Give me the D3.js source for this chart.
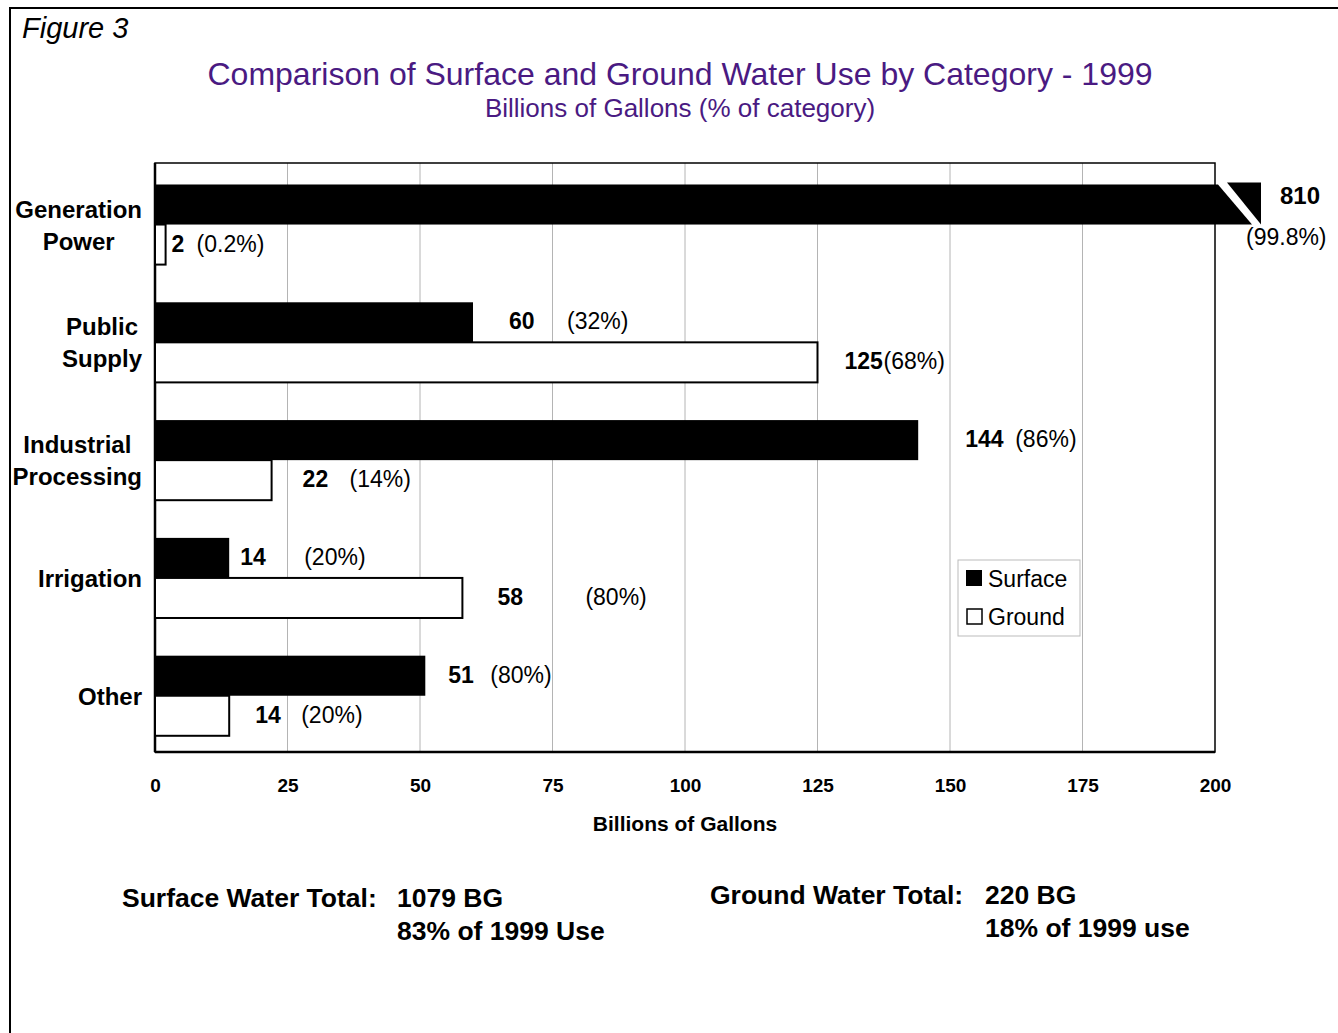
<!DOCTYPE html>
<html>
<head>
<meta charset="utf-8">
<script src="https://cdn.jsdelivr.net/npm/d3@7"></script>
<style>
  body { margin: 0; background: #fff; }
  svg { display: block; font-family: "Liberation Sans", Arial, sans-serif; }
</style>
</head>
<body>
<div id="chart"></div>
<script>
// ---- data ----
var categories = [['Generation', 'Power'], ['Public', 'Supply'], ['Industrial', 'Processing'], ['Irrigation'], ['Other']];
var surface = [810, 60, 144, 14, 51];
var ground = [2, 125, 22, 58, 14];
var surfacePct = ['(99.8%)', '(32%)', '(86%)', '(20%)', '(80%)'];
var groundPct = ['(0.2%)', '(68%)', '(14%)', '(80%)', '(20%)'];
var xTicks = [0, 25, 50, 75, 100, 125, 150, 175, 200];

// label nudges (px) : [gap after bar end, gap number -> percent]
var surfaceNudge = [[0, 0], [36, 58], [47, 50], [11, 64], [23, 42]];
var groundNudge = [[6, 25], [27, 39], [31, 47], [35, 88], [26, 46]];

var W = 1338, H = 1033;
var pLeft = 155, pRight = 1215, pTop = 163, pBottom = 752;

var svg = d3.select('#chart').append('svg')
    .attr('width', W).attr('height', H);

// outer frame
svg.append('path')
    .attr('d', `M10,${H} L10,8 L${W},8`)
    .attr('fill', 'none').attr('stroke', '#000').attr('stroke-width', 2);

svg.append('text').attr('x', 22).attr('y', 38)
    .style('font-style', 'italic').style('font-size', '29px')
    .text('Figure 3');

var purple = '#4a1a82';
svg.append('text').attr('x', 680).attr('y', 85)
    .attr('text-anchor', 'middle').style('font-size', '32px').attr('fill', purple)
    .text('Comparison of Surface and Ground Water Use by Category - 1999');
svg.append('text').attr('x', 680).attr('y', 117)
    .attr('text-anchor', 'middle').style('font-size', '26px').attr('fill', purple)
    .text('Billions of Gallons (% of category)');

var x = d3.scaleLinear().domain([0, 200]).range([pLeft, pRight]);
var y = d3.scaleBand().domain(d3.range(categories.length))
    .range([pTop, pBottom]).paddingInner(0.32).paddingOuter(0.16).align(0.57);
var sub = d3.scaleBand().domain(['s', 'g']).range([0, y.bandwidth()]);

// grid
svg.append('g').selectAll('line')
    .data(xTicks.slice(1, -1))
    .join('line')
    .attr('x1', d => x(d)).attr('x2', d => x(d))
    .attr('y1', pTop).attr('y2', pBottom)
    .attr('stroke', '#b4b4b4').attr('stroke-width', 1);

// plot box
svg.append('rect')
    .attr('x', pLeft).attr('y', pTop)
    .attr('width', pRight - pLeft).attr('height', pBottom - pTop)
    .attr('fill', 'none').attr('stroke', '#000').attr('stroke-width', 1.5);
svg.append('line')
    .attr('x1', pLeft).attr('x2', pRight).attr('y1', pBottom).attr('y2', pBottom)
    .attr('stroke', '#000').attr('stroke-width', 2.5);
svg.append('line')
    .attr('x1', pLeft).attr('x2', pLeft).attr('y1', pTop).attr('y2', pBottom)
    .attr('stroke', '#000').attr('stroke-width', 2.5);

// x axis
var xAxis = svg.append('g')
    .attr('transform', `translate(0,${pBottom})`)
    .call(d3.axisBottom(x).tickValues(xTicks).tickSize(0).tickPadding(27));
xAxis.select('.domain').remove();
xAxis.selectAll('text')
    .style('font-size', '19px').style('font-weight', 'bold')
    .style('font-family', '"Liberation Sans", Arial, sans-serif').attr('fill', '#000');

svg.append('text').attr('x', x(100)).attr('y', 831)
    .attr('text-anchor', 'middle').style('font-size', '21px').style('font-weight', 'bold')
    .text('Billions of Gallons');

// category labels
categories.forEach((lines, i) => {
    var g = svg.append('g');
    var cy = y(i) + y.bandwidth() / 2;
    var lh = 32;
    var texts = lines.map((t, j) => g.append('text')
        .attr('y', cy + (j - (lines.length - 1) / 2) * lh + 9)
        .attr('text-anchor', 'middle')
        .style('font-size', '24px').style('font-weight', 'bold')
        .text(t));
    var maxW = d3.max(texts, t => t.node().getComputedTextLength());
    texts.forEach(t => t.attr('x', 142 - maxW / 2));
});

// bars
var bars = svg.append('g');
var maxV = x.domain()[1];
surface.forEach((v, i) => {
    var by = y(i) + sub('s');
    var bh = sub.bandwidth();
    bars.append('rect')
        .attr('x', x(0)).attr('y', by)
        .attr('width', x(Math.min(v, maxV)) - x(0)).attr('height', bh)
        .attr('fill', '#000');
    if (v > maxV) {
        var xe = x(maxV);
        bars.append('polygon')
            .attr('points', [[xe, by], [xe + 3, by], [xe + 37, by + bh], [xe, by + bh]].join(' '))
            .attr('fill', '#000');
        bars.append('polygon')
            .attr('points', [[xe + 12, by - 2], [xe + 46, by - 2], [xe + 46, by + bh]].join(' '))
            .attr('fill', '#000');
    }
});
ground.forEach((v, i) => {
    bars.append('rect')
        .attr('x', x(0)).attr('y', y(i) + sub('g'))
        .attr('width', x(v) - x(0)).attr('height', sub.bandwidth())
        .attr('fill', '#fff').attr('stroke', '#000').attr('stroke-width', 2);
});

// value labels
function valueLabel(v, pct, i, key, nudge) {
    var cy = y(i) + sub(key) + sub.bandwidth() / 2 + 7;
    var x0 = x(v) + nudge[0];
    svg.append('text').attr('x', x0).attr('y', cy)
        .style('font-size', '23px').style('font-weight', 'bold').text(v);
    svg.append('text').attr('x', x0 + nudge[1]).attr('y', cy)
        .style('font-size', '23px').text(pct);
}
surface.forEach((v, i) => {
    if (v > maxV) {
        var by = y(i) + sub('s');
        svg.append('text').attr('x', x(maxV) + 65).attr('y', by + 20)
            .style('font-size', '24px').style('font-weight', 'bold').text(v);
        svg.append('text').attr('x', x(maxV) + 31).attr('y', by + 61)
            .style('font-size', '23px').text(surfacePct[i]);
    } else {
        valueLabel(v, surfacePct[i], i, 's', surfaceNudge[i]);
    }
});
ground.forEach((v, i) => valueLabel(v, groundPct[i], i, 'g', groundNudge[i]));

// legend
var lg = svg.append('g').attr('transform', 'translate(958,560)');
lg.append('rect').attr('width', 122).attr('height', 76)
    .attr('fill', '#fff').attr('stroke', '#bbb').attr('stroke-width', 1);
lg.append('rect').attr('x', 8).attr('y', 10).attr('width', 16).attr('height', 16).attr('fill', '#000');
lg.append('rect').attr('x', 9).attr('y', 49).attr('width', 15).attr('height', 15)
    .attr('fill', '#fff').attr('stroke', '#000').attr('stroke-width', 1.5);
lg.append('text').attr('x', 30).attr('y', 27).style('font-size', '23px').text('Surface');
lg.append('text').attr('x', 30).attr('y', 65).style('font-size', '23px').text('Ground');

// totals
var tot = svg.append('g').style('font-size', '26.5px').style('font-weight', 'bold');
tot.append('text').attr('x', 122).attr('y', 907).text('Surface Water Total:');
tot.append('text').attr('x', 397).attr('y', 907).text('1079 BG');
tot.append('text').attr('x', 397).attr('y', 940).text('83% of 1999 Use');
tot.append('text').attr('x', 710).attr('y', 904).text('Ground Water Total:');
tot.append('text').attr('x', 985).attr('y', 904).text('220 BG');
tot.append('text').attr('x', 985).attr('y', 937).text('18% of 1999 use');
</script>
</body>
</html>
